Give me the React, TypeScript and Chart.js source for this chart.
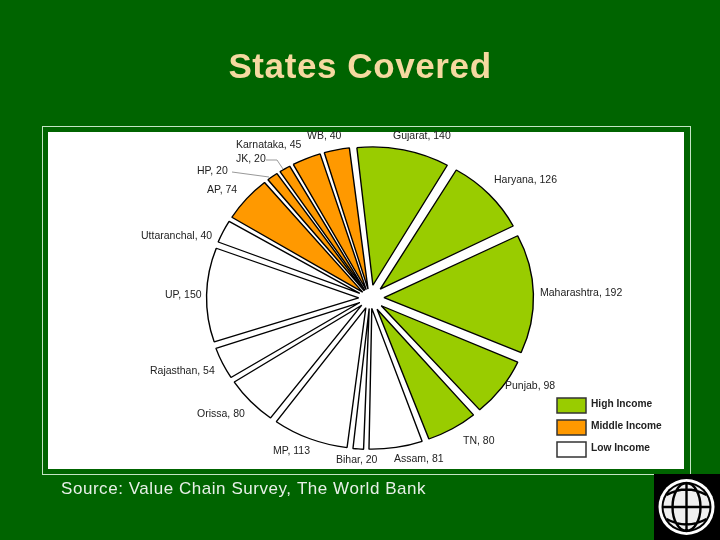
import { useEffect, useRef } from 'react'
import { Chart, registerables } from 'chart.js'

Chart.register(...registerables)

const states = ['Gujarat', 'Haryana', 'Maharashtra', 'Punjab', 'TN', 'Assam', 'Bihar', 'MP', 'Orissa', 'Rajasthan', 'UP', 'Uttaranchal', 'AP', 'HP', 'JK', 'Karnataka', 'WB']
const surveyed = [140, 126, 192, 98, 80, 81, 20, 113, 80, 54, 150, 40, 74, 20, 20, 45, 40]
const incomeGroup = ['High', 'High', 'High', 'High', 'High', 'Low', 'Low', 'Low', 'Low', 'Low', 'Low', 'Low', 'Middle', 'Middle', 'Middle', 'Middle', 'Middle']
const legendNames = ['High Income', 'Middle Income', 'Low Income']

const groupColors: Record<string, string> = { High: '#99cc00', Middle: '#ff9900', Low: '#ffffff' }
// arc elements only move by a quarter of their offset
const groupOffsets: Record<string, number> = { High: 52, Middle: 36, Low: 42 }
const legendColors = ['#99cc00', '#ff9900', '#ffffff']

// left edge and vertical middle of each slice label, same order as states
const labelPos = [
  [393, 136], [494, 180], [540, 293], [505, 386], [463, 441], [394, 459], [336, 460], [273, 451], [197, 414],
  [150, 371], [165, 295], [141, 236], [207, 190], [197, 171], [236, 159], [236, 145], [307, 136],
]
const legendY = [398, 420, 442]

const CX = 370
const CY = 298
const STRETCH = 1.08 // the slide was stretched, the pie is wider than tall

const slidePlugin = {
  id: 'slide',
  beforeDraw(chart: Chart) {
    const ctx = chart.ctx
    ctx.save()
    ctx.fillStyle = '#006400'
    ctx.fillRect(0, 0, 720, 540)
    ctx.strokeStyle = '#c4e4c4'
    ctx.lineWidth = 1
    ctx.strokeRect(42.5, 126.5, 648, 348)
    ctx.fillStyle = '#ffffff'
    ctx.fillRect(48, 132, 636, 337)
    ctx.restore()
  },
  beforeDatasetsDraw(chart: Chart) {
    const ctx = chart.ctx
    ctx.save()
    ctx.translate(CX, CY)
    ctx.scale(STRETCH, 1)
    ctx.translate(-CX, -CY)

    // ArcElement grows thin exploded slices, take that back so the rim stays round
    const meta = chart.getDatasetMeta(0)
    const rim = (meta.controller as any).outerRadius + groupOffsets.High / 4
    meta.data.forEach((arc: any, i: number) => {
      const move = groupOffsets[incomeGroup[i]] / 4
      const fix = 1 - Math.sin(Math.min(Math.PI, arc.circumference))
      arc.outerRadius = rim - move - move * fix
    })
  },
  afterDatasetsDraw(chart: Chart) {
    chart.ctx.restore()
  },
  afterDraw(chart: Chart) {
    const ctx = chart.ctx
    ctx.save()
    ctx.textBaseline = 'middle'

    ctx.fillStyle = '#f5d9a0'
    ctx.font = 'bold 35px "Liberation Sans"'
    ctx.letterSpacing = '0.6px'
    ctx.textAlign = 'center'
    ctx.fillText('States Covered', 360, 68)

    ctx.textAlign = 'left'
    ctx.fillStyle = '#e8f0e8'
    ctx.font = '17px "Liberation Sans"'
    ctx.letterSpacing = '0.55px'
    ctx.fillText('Source: Value Chain Survey, The World Bank', 61, 489)
    ctx.letterSpacing = '0px'

    ctx.fillStyle = '#222222'
    ctx.font = '10.5px "Liberation Sans"'
    states.forEach((name, i) => {
      ctx.fillText(`${name}, ${surveyed[i]}`, labelPos[i][0], labelPos[i][1])
    })

    // leader lines for the two thin slices
    ctx.strokeStyle = '#999999'
    ctx.lineWidth = 1
    ctx.beginPath()
    ctx.moveTo(232, 172)
    ctx.lineTo(269, 177)
    ctx.moveTo(266, 160)
    ctx.lineTo(277, 160)
    ctx.lineTo(283, 169)
    ctx.stroke()

    ctx.font = 'bold 10.2px "Liberation Sans"'
    legendNames.forEach((name, i) => {
      ctx.fillStyle = legendColors[i]
      ctx.fillRect(557, legendY[i], 29, 15)
      ctx.strokeStyle = '#333333'
      ctx.lineWidth = 1.5
      ctx.strokeRect(557, legendY[i], 29, 15)
      ctx.fillStyle = '#222222'
      ctx.fillText(name, 591, legendY[i] + 6)
    })

    // World Bank globe
    ctx.fillStyle = '#000000'
    ctx.fillRect(654, 474, 66, 66)
    const gx = 686.5
    const gy = 507
    ctx.fillStyle = '#ffffff'
    ctx.beginPath()
    ctx.arc(gx, gy, 28, 0, Math.PI * 2)
    ctx.fill()
    ctx.fillStyle = '#000000'
    ctx.beginPath()
    ctx.arc(gx, gy, 25, 0, Math.PI * 2)
    ctx.fill()
    ctx.fillStyle = '#f0f0f0'
    ctx.beginPath()
    ctx.arc(gx, gy, 23, 0, Math.PI * 2)
    ctx.fill()
    ctx.strokeStyle = '#000000'
    ctx.lineWidth = 2.4
    ctx.beginPath()
    ctx.moveTo(gx, gy - 24)
    ctx.lineTo(gx, gy + 24)
    ctx.moveTo(gx - 24, gy)
    ctx.lineTo(gx + 24, gy)
    ctx.moveTo(gx + 14, gy)
    ctx.ellipse(gx, gy, 14, 24, 0, 0, Math.PI * 2)
    ctx.moveTo(gx - 20, gy - 12)
    ctx.quadraticCurveTo(gx, gy - 23, gx + 20, gy - 12)
    ctx.moveTo(gx - 20, gy + 12)
    ctx.quadraticCurveTo(gx, gy + 23, gx + 20, gy + 12)
    ctx.stroke()

    ctx.restore()
  },
}

export default function App() {
  const chartRef = useRef<HTMLCanvasElement>(null)

  useEffect(() => {
    if (!chartRef.current) return
    document.body.style.margin = '0'

    const chart = new Chart(chartRef.current, {
      type: 'pie',
      data: {
        labels: states,
        datasets: [
          {
            data: surveyed,
            backgroundColor: incomeGroup.map(g => groupColors[g]),
            borderColor: '#000000',
            borderWidth: 1.3,
            offset: incomeGroup.map(g => groupOffsets[g]),
          },
        ],
      },
      options: {
        responsive: false,
        animation: false,
        rotation: -6.5,
        layout: { padding: { left: 205, right: 185, top: 133, bottom: 77 } },
        plugins: {
          legend: { display: false },
          tooltip: { enabled: false },
        },
      },
      plugins: [slidePlugin],
    })

    return () => chart.destroy()
  }, [])

  return <canvas ref={chartRef} width={720} height={540} style={{ display: 'block' }} />
}
